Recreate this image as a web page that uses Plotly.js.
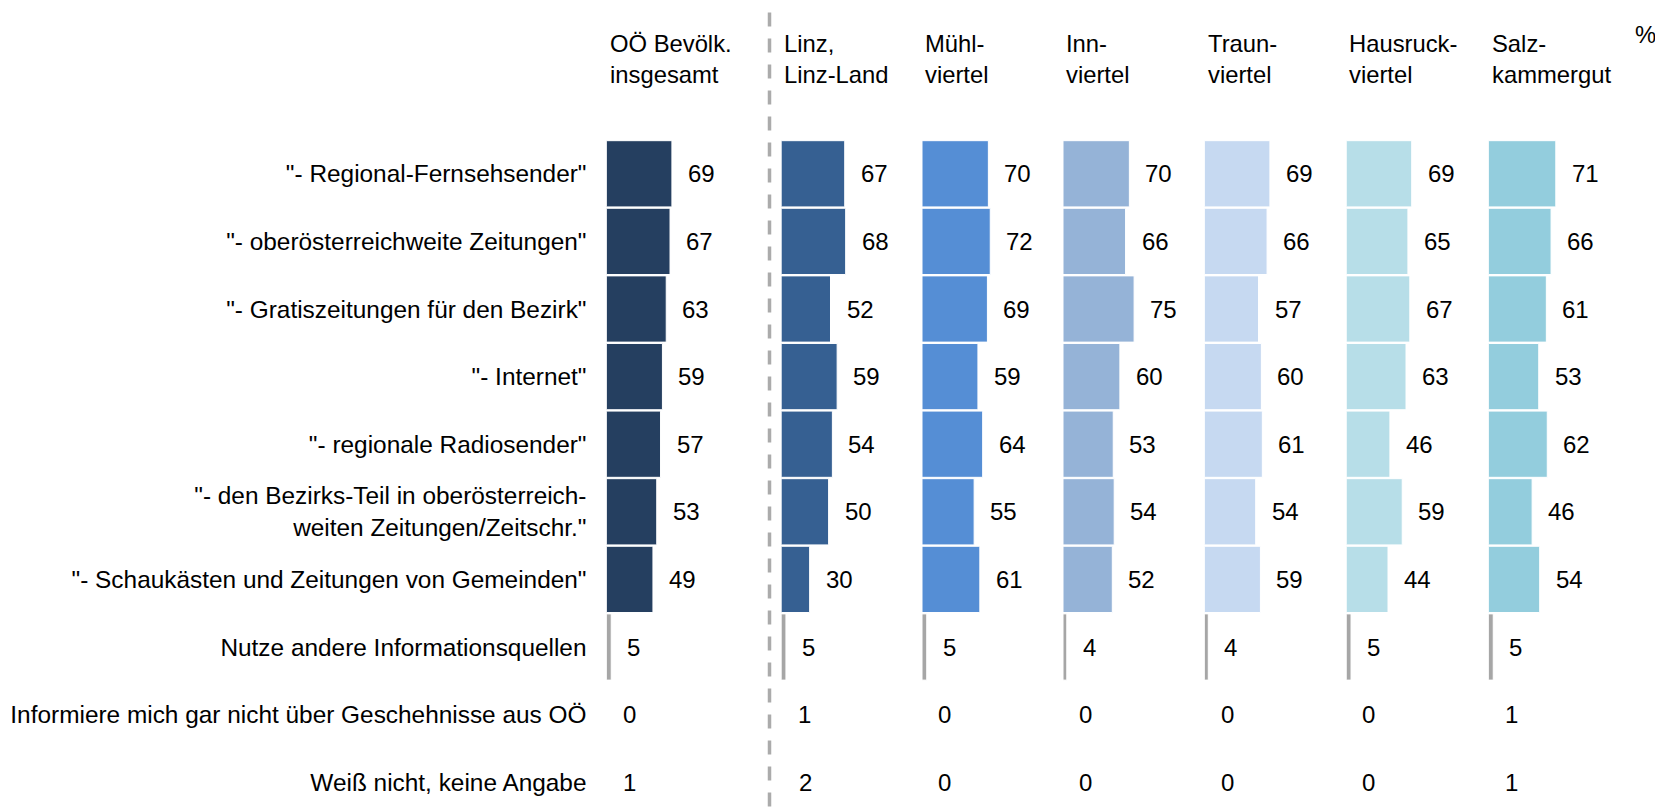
<!DOCTYPE html>
<html><head><meta charset="utf-8">
<script src="https://cdn.plot.ly/plotly-3.0.1.min.js"></script>
<style>html,body{margin:0;padding:0;background:#fff;overflow:hidden}</style>
</head><body>
<div id="chart" style="width:1655px;height:808px"></div>
<script>
// ---- data ----
const categories = [
  '"- Regional-Fernsehsender"',
  '"- oberösterreichweite Zeitungen"',
  '"- Gratiszeitungen für den Bezirk"',
  '"- Internet"',
  '"- regionale Radiosender"',
  '"- den Bezirks-Teil in oberösterreich-<br>weiten Zeitungen/Zeitschr."',
  '"- Schaukästen und Zeitungen von Gemeinden"',
  'Nutze andere Informationsquellen',
  'Informiere mich gar nicht über Geschehnisse aus OÖ',
  'Weiß nicht, keine Angabe'
];
const panelTitles = [
  'OÖ Bevölk.<br>insgesamt',
  'Linz,<br>Linz-Land',
  'Mühl-<br>viertel',
  'Inn-<br>viertel',
  'Traun-<br>viertel',
  'Hausruck-<br>viertel',
  'Salz-<br>kammergut'
];
const ooeGesamt   = [69, 67, 63, 59, 57, 53, 49, 5, 0, 1];
const linzLand    = [67, 68, 52, 59, 54, 50, 30, 5, 1, 2];
const muehlviertel= [70, 72, 69, 59, 64, 55, 61, 5, 0, 0];
const innviertel  = [70, 66, 75, 60, 53, 54, 52, 4, 0, 0];
const traunviertel= [69, 66, 57, 60, 61, 54, 59, 4, 0, 0];
const hausruck    = [69, 65, 67, 63, 46, 59, 44, 5, 0, 0];
const salzkammer  = [71, 66, 61, 53, 62, 46, 54, 5, 1, 1];
const unitLabel = '%';

const panelValues = [ooeGesamt, linzLand, muehlviertel, innviertel, traunviertel, hausruck, salzkammer];

// ---- styles / layout ----
const panelColors = ['#253F60', '#366092', '#558ED5', '#95B3D7', '#C6D9F1', '#B7DEE8', '#93CDDD'];
const otherColor = '#A6A6A6';
const FAMILY = '"Liberation Sans", Arial, sans-serif';
const FONT = {family: FAMILY, size: 24, color: '#000'};
const TICKFONT = {family: FAMILY, size: 24.4, color: '#000'};
const HEADFONT = {family: FAMILY, size: 23.8, color: '#000'};
const W = 1655, H = 808, TOP = 140;
const plotH = H - TOP;
const pitch = 67.6;
const panelLeft = [606.5, 781.2, 922, 1063, 1204.5, 1346.3, 1488.5];
const pxPerUnit = 0.948;
const panelW = 128;
const py = p => (H - p) / plotH; // pixel y -> paper y

const traces = [];
const annotations = [];
const layout = {
  width: W, height: H,
  margin: {l: 0, r: 0, t: TOP, b: 0, pad: 0},
  paper_bgcolor: '#fff', plot_bgcolor: 'rgba(0,0,0,0)',
  showlegend: false,
  barmode: 'overlay',
  bargap: 0.02,
  font: FONT,
  yaxis: {
    type: 'category', categoryorder: 'array', categoryarray: categories,
    range: [-0.5 + plotH / pitch, -0.5],
    anchor: 'x', showgrid: false, zeroline: false, showline: false,
    ticks: '', ticklabelstandoff: 19, automargin: false,
    tickfont: TICKFONT
  },
  shapes: [{
    type: 'line', xref: 'paper', yref: 'paper',
    x0: 769.5 / W, x1: 769.5 / W, y0: py(12.5), y1: py(812),
    line: {color: '#ABABAB', width: 3.5, dash: '14px,12px'}
  }],
  annotations: annotations
};

panelValues.forEach((vals, p) => {
  const axId = p === 0 ? 'x' : 'x' + (p + 1);
  const axKey = p === 0 ? 'xaxis' : 'xaxis' + (p + 1);
  const colors = vals.map((v, i) => i < 7 ? panelColors[p] : (i === 7 ? otherColor : 'rgba(0,0,0,0)'));
  const lineW = vals.map((v, i) => i < 8 ? 1 : 0);
  traces.push({
    type: 'bar', orientation: 'h',
    x: vals, y: categories,
    xaxis: axId, yaxis: 'y',
    marker: {color: colors, line: {color: '#FFFFFF', width: lineW}},
    hoverinfo: 'skip'
  });
  layout[axKey] = {
    domain: [panelLeft[p] / W, (panelLeft[p] + panelW) / W],
    range: [0, panelW / pxPerUnit],
    anchor: 'y', visible: false, showgrid: false, zeroline: false, fixedrange: true
  };
  vals.forEach((v, i) => {
    annotations.push({
      xref: axId, yref: 'y', x: v, y: i,
      text: String(v), showarrow: false,
      xanchor: 'left', yanchor: 'middle', xshift: 14,
      font: FONT
    });
  });
  annotations.push({
    xref: axId, yref: 'paper', x: 0, y: py(59.5),
    text: panelTitles[p], showarrow: false, align: 'left',
    xanchor: 'left', yanchor: 'middle', xshift: 1,
    font: HEADFONT
  });
});

annotations.push({
  xref: 'paper', yref: 'paper', x: 1633 / W, y: py(35),
  text: unitLabel, showarrow: false, xanchor: 'left', yanchor: 'middle',
  font: HEADFONT
});

Plotly.newPlot('chart', traces, layout, {displayModeBar: false, staticPlot: true});
</script>
</body></html>
